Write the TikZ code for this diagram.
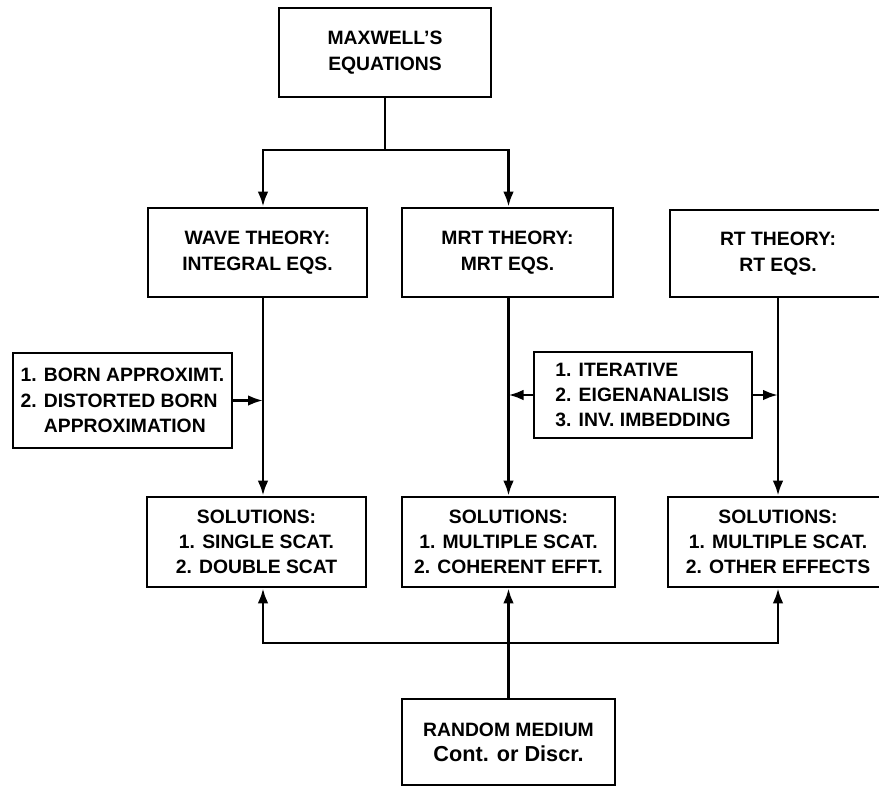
\documentclass[tikz,border=0pt]{standalone}
\usepackage{fontspec}
\setmainfont{Liberation Sans}
\usetikzlibrary{arrows.meta}

\begin{document}
\begin{tikzpicture}[x=0.03cm, y=-0.03cm,
  box/.style={draw, line width=2.3pt, inner sep=0pt, align=center,
    font=\fontsize{16.5}{21.6}\selectfont\bfseries},
  conn/.style={line width=2.3pt},
  arr/.style={conn, -{Latex[length=0.45cm,width=0.32cm]}}]
\useasboundingbox (0,0) rectangle (879,787);
\clip (0,0) rectangle (879,787);

\node[box, minimum width=6.36cm, minimum height=2.67cm] (maxwell) at (385,52.5) {MAXWELL'S\\EQUATIONS};

\node[box, minimum width=6.57cm, minimum height=2.67cm] (wave) at (257.5,252.5) {WAVE THEORY:\\INTEGRAL EQS.};
\node[box, minimum width=6.33cm, minimum height=2.67cm] (mrt) at (507.5,252.5) {MRT THEORY:\\MRT EQS.};
\node[box, minimum width=6.48cm, minimum height=2.61cm] (rt) at (778,253.5) {RT THEORY:\\RT EQS.};

\node[box, align=left, minimum width=6.57cm, minimum height=2.85cm] (born) at (122.5,400.5)
  {1. BORN APPROXIMT.\\2. DISTORTED BORN\\\phantom{2. }APPROXIMATION};
\node[box, align=left, minimum width=6.54cm, minimum height=2.58cm] (iter) at (643,395)
  {1. ITERATIVE\\2. EIGENANALISIS\\3. INV. IMBEDDING};

\node[box, minimum width=6.57cm, minimum height=2.7cm] (sol1) at (256.5,542) {SOLUTIONS:\\1. SINGLE SCAT.\\2. DOUBLE SCAT};
\node[box, minimum width=6.39cm, minimum height=2.7cm] (sol2) at (508.5,542) {SOLUTIONS:\\1. MULTIPLE SCAT.\\2. COHERENT EFFT.};
\node[box, minimum width=6.6cm, minimum height=2.7cm] (sol3) at (778,542) {SOLUTIONS:\\1. MULTIPLE SCAT.\\2. OTHER EFFECTS};

\node[box, minimum width=6.39cm, minimum height=2.58cm] (random) at (508.5,742)
  {RANDOM MEDIUM\\{\fontsize{18.5}{22}\selectfont Cont. or Discr.}};

\coordinate (wl) at (263,150);
\coordinate (ml) at (508.5,150);
\coordinate (rl) at (778,150);
\coordinate (bus) at (508.5,643);

\draw[conn] (maxwell.south) -- (maxwell.south |- wl);
\draw[arr] (maxwell.south |- wl) -- (wl) -- (wl |- wave.north);
\draw[arr] (maxwell.south |- ml) -- (ml) -- (ml |- mrt.north);

\draw[arr] (wl |- wave.south) -- (wl |- sol1.north);
\draw[arr] (ml |- mrt.south) -- (ml |- sol2.north);
\draw[arr] (rl |- rt.south) -- (rl |- sol3.north);

\draw[arr] (born.east) -- (born.east -| wl);
\draw[arr] (iter.west) -- (iter.west -| ml);
\draw[arr] (iter.east) -- (iter.east -| rl);

\draw[arr] (random.north) -- (random.north |- sol2.south);
\draw[arr] (bus) -| (wl |- sol1.south);
\draw[arr] (bus) -| (rl |- sol3.south);
\end{tikzpicture}
\end{document}
